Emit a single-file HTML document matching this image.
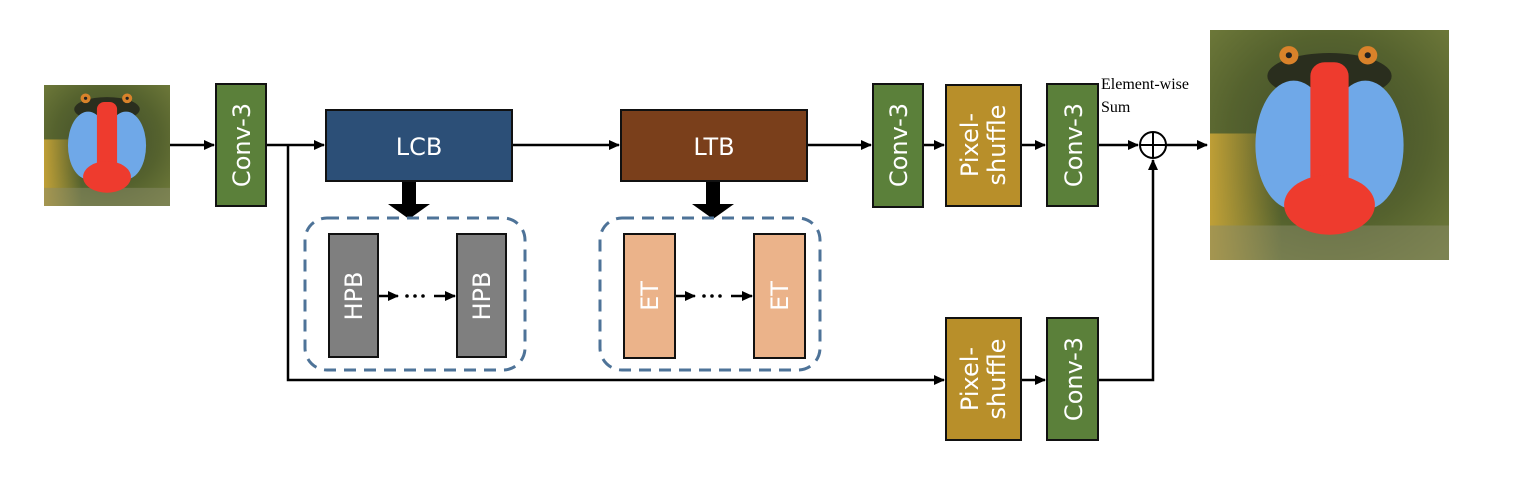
<!DOCTYPE html>
<html><head><meta charset="utf-8"><style>
html,body{margin:0;padding:0;background:#fff;}
svg{display:block}
.t{font-family:"DejaVu Sans","Liberation Sans",sans-serif;fill:#fff;}
</style></head><body>
<svg width="1524" height="478" viewBox="0 0 1524 478" xmlns="http://www.w3.org/2000/svg">
<defs>
<marker id="a" markerWidth="11" markerHeight="10" refX="10" refY="5" orient="auto" markerUnits="userSpaceOnUse">
<path d="M0,0 L11,5 L0,10 z" fill="#000"/></marker>
<radialGradient id="fur" cx="50%" cy="45%" r="70%">
<stop offset="0" stop-color="#3d4a2a"/><stop offset="0.6" stop-color="#55622e"/><stop offset="1" stop-color="#6f7a3a"/></radialGradient>
<linearGradient id="yl" x1="0" y1="0" x2="1" y2="0"><stop offset="0" stop-color="#c9a436" stop-opacity="0.9"/><stop offset="1" stop-color="#c9a436" stop-opacity="0"/></linearGradient>
<g id="bab">
<rect x="0" y="0" width="100" height="100" fill="url(#fur)"/>
<rect x="0" y="45" width="30" height="55" fill="url(#yl)"/>
<rect x="0" y="85" width="100" height="15" fill="#8a8c6a" opacity="0.5"/>
<ellipse cx="50" cy="20" rx="26" ry="10" fill="#2a2e1e"/>
<ellipse cx="35" cy="50" rx="16" ry="28" fill="#6fa8e8"/>
<ellipse cx="65" cy="50" rx="16" ry="28" fill="#6fa8e8"/>
<rect x="42" y="14" width="16" height="62" rx="6" fill="#ee3b2e"/>
<ellipse cx="50" cy="76" rx="19" ry="13" fill="#ee3b2e"/>
<circle cx="33" cy="11" r="4" fill="#d9822a"/><circle cx="33" cy="11" r="1.3" fill="#222"/>
<circle cx="66" cy="11" r="4" fill="#d9822a"/><circle cx="66" cy="11" r="1.3" fill="#222"/>
</g>
</defs>

<svg x="44" y="85" width="126" height="121" viewBox="0 0 100 100" preserveAspectRatio="none"><use href="#bab"/></svg>
<svg x="1210" y="30" width="239" height="230" viewBox="0 0 100 100" preserveAspectRatio="none"><use href="#bab"/></svg>

<g stroke="#000" stroke-width="2.5" fill="none">
<line x1="170" y1="145" x2="214" y2="145" marker-end="url(#a)"/>
<line x1="266" y1="145" x2="324" y2="145" marker-end="url(#a)"/>
<line x1="512" y1="145" x2="619" y2="145" marker-end="url(#a)"/>
<line x1="808" y1="145" x2="871" y2="145" marker-end="url(#a)"/>
<line x1="923" y1="145" x2="944" y2="145" marker-end="url(#a)"/>
<line x1="1021" y1="145" x2="1045" y2="145" marker-end="url(#a)"/>
<line x1="1098" y1="145" x2="1138" y2="145" marker-end="url(#a)"/>
<line x1="1166" y1="145" x2="1207" y2="145" marker-end="url(#a)"/>
<polyline points="288,145 288,380 944,380" marker-end="url(#a)"/>
<line x1="1021" y1="380" x2="1045" y2="380" marker-end="url(#a)"/>
<polyline points="1098,380 1153,380 1153,160" marker-end="url(#a)"/>
<circle cx="1153" cy="145" r="13" stroke-width="2"/>
<line x1="1140" y1="145" x2="1166" y2="145" stroke-width="2"/>
<line x1="1153" y1="132" x2="1153" y2="158" stroke-width="2"/>
<line x1="378" y1="296" x2="398" y2="296" marker-end="url(#a)"/>
<line x1="434" y1="296" x2="455" y2="296" marker-end="url(#a)"/>
<line x1="675" y1="296" x2="695" y2="296" marker-end="url(#a)"/>
<line x1="731" y1="296" x2="752" y2="296" marker-end="url(#a)"/>
</g>
<g fill="#000">
<circle cx="407" cy="296" r="1.8"/><circle cx="415" cy="296" r="1.8"/><circle cx="423" cy="296" r="1.8"/>
<circle cx="704" cy="296" r="1.8"/><circle cx="712" cy="296" r="1.8"/><circle cx="720" cy="296" r="1.8"/>
<path d="M402,181 h14 v23 h14 l-21,15 l-21,-15 h14 z"/>
<path d="M706,181 h14 v23 h14 l-21,15 l-21,-15 h14 z"/>
</g>

<rect x="305" y="218" width="220" height="152" rx="22" fill="none" stroke="#4e7398" stroke-width="3" stroke-dasharray="12,8"/>
<rect x="600" y="218" width="220" height="152" rx="22" fill="none" stroke="#4e7398" stroke-width="3" stroke-dasharray="12,8"/>

<g stroke="#111" stroke-width="2">
<rect x="216" y="84" width="50" height="122" fill="#5b803a"/>
<rect x="326" y="110" width="186" height="71" fill="#2c4f77"/>
<rect x="621" y="110" width="186" height="71" fill="#7a3f1b"/>
<rect x="329" y="234" width="49" height="123" fill="#7f7f7f"/>
<rect x="457" y="234" width="49" height="123" fill="#7f7f7f"/>
<rect x="624" y="234" width="51" height="124" fill="#ebb38a"/>
<rect x="754" y="234" width="51" height="124" fill="#ebb38a"/>
<rect x="873" y="84" width="50" height="123" fill="#5b803a"/>
<rect x="946" y="85" width="75" height="121" fill="#b88f2a"/>
<rect x="1047" y="84" width="51" height="122" fill="#5b803a"/>
<rect x="946" y="318" width="75" height="122" fill="#b88f2a"/>
<rect x="1047" y="318" width="51" height="122" fill="#5b803a"/>
</g>

<text class="t" x="419" y="155" font-size="24" text-anchor="middle">LCB</text>
<text class="t" x="714" y="155" font-size="24" text-anchor="middle">LTB</text>
<g class="t" font-size="24" text-anchor="middle">
<text transform="translate(250,145) rotate(-90)">Conv-3</text>
<text transform="translate(907,145) rotate(-90)">Conv-3</text>
<text transform="translate(1082,145) rotate(-90)">Conv-3</text>
<text transform="translate(1082,379) rotate(-90)">Conv-3</text>
<text transform="translate(978,145) rotate(-90)">Pixel-</text>
<text transform="translate(1005,145) rotate(-90)">shuffle</text>
<text transform="translate(978,379) rotate(-90)">Pixel-</text>
<text transform="translate(1005,379) rotate(-90)">shuffle</text>
<text transform="translate(362,296) rotate(-90)">HPB</text>
<text transform="translate(490,296) rotate(-90)">HPB</text>
<text transform="translate(658,296) rotate(-90)">ET</text>
<text transform="translate(788,296) rotate(-90)">ET</text>
</g>
<text x="1101" y="89" font-family="Liberation Serif,serif" font-size="16" fill="#000">Element-wise</text>
<text x="1101" y="112" font-family="Liberation Serif,serif" font-size="16" fill="#000">Sum</text>
</svg>
</body></html>
